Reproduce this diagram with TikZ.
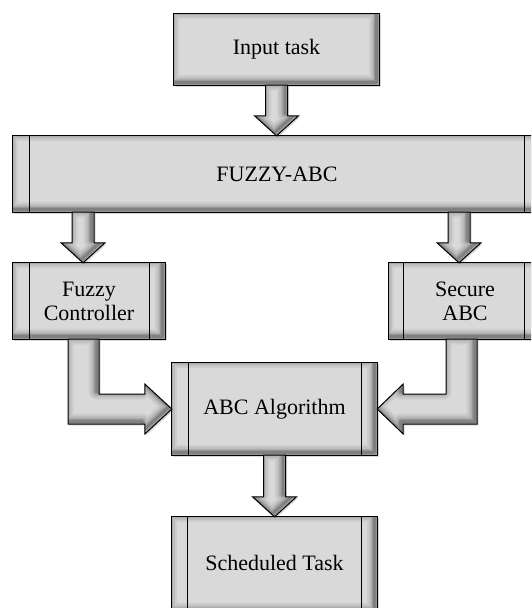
\documentclass[tikz,border=0pt]{standalone}
\usepackage{fontspec}
\setmainfont{Liberation Serif}
\usetikzlibrary{calc}
\definecolor{boxfill}{RGB}{217,217,217}
\pgfdeclarelayer{background}
\pgfsetlayers{background,main}
\newcommand\shadedshape[1]{%
  \begin{scope}[transform canvas={shift={(1.5pt,-1.5pt)}}]
    \fill[black,opacity=0.15] #1;
  \end{scope}
  \fill[boxfill] #1;
  \begin{scope}
    \clip #1;
    \begin{scope}[transform canvas={shift={(-2.5pt,2.5pt)}}]
      \foreach \w/\o in {16/0.05,12/0.07,8/0.09,5/0.12,2.5/0.15}{
        \draw[black,opacity=\o,line width=\w pt,line join=round] #1;}
    \end{scope}
  \end{scope}
  \draw[black,line width=1pt,line join=miter] #1;
}
\tikzset{
  txt/.style={inner sep=0pt,align=center,font=\fontsize{22}{24}\selectfont},
}
\begin{document}
\begin{tikzpicture}[x=1pt,y=1pt]
\useasboundingbox (0,0) rectangle (531,-608);
% boxes (text on main layer)
\node[txt,minimum width=205pt,minimum height=71pt] (in) at (276.5,-49.5) {Input task};
\node[txt,minimum width=528pt,minimum height=76pt] (fz) at (277,-174) {FUZZY-ABC};
\node[txt,minimum width=152pt,minimum height=76pt] (fc) at (89,-301) {Fuzzy\\Controller};
\node[txt,minimum width=152pt,minimum height=76pt] (sa) at (465,-301) {Secure\\ABC};
\node[txt,minimum width=205pt,minimum height=92pt] (abc) at (274.5,-409) {ABC Algorithm};
\node[txt,minimum width=205pt,minimum height=92pt] (st) at (274.5,-563) {Scheduled Task};
% arrow anchor coordinates
\coordinate (t1) at (in.south |- fz.north);
\coordinate (t2) at ($(fc.north)+(-6,0)$);
\coordinate (s2) at (t2 |- fz.south);
\coordinate (t3) at ($(sa.north)+(-6,0)$);
\coordinate (s3) at (t3 |- fz.south);
\coordinate (s4) at ($(fc.south)+(-5.5,0)$);
\coordinate (a4L) at ($(s4)+(-15.5,0)$);
\coordinate (a4R) at ($(s4)+(15.5,0)$);
\coordinate (h4lo) at ($(abc.west)+(-27,-15)$);
\coordinate (h4up) at ($(abc.west)+(-27,15)$);
\coordinate (s5) at ($(sa.south)+(-3.5,0)$);
\coordinate (a5L) at ($(s5)+(-15.5,0)$);
\coordinate (a5R) at ($(s5)+(15.5,0)$);
\coordinate (h5lo) at ($(abc.east)+(26,-15)$);
\coordinate (h5up) at ($(abc.east)+(26,15)$);
\coordinate (t6) at (abc.south |- st.north);
\begin{pgfonlayer}{background}
\clip (0,0) rectangle (531,-608);
% boxes
\shadedshape{(in.north west) rectangle (in.south east)}
\shadedshape{(fz.north west) rectangle (fz.south east)}
\shadedshape{(fc.north west) rectangle (fc.south east)}
\shadedshape{(sa.north west) rectangle (sa.south east)}
\shadedshape{(abc.north west) rectangle (abc.south east)}
\shadedshape{(st.north west) rectangle ($(st.south east)+(0,-4)$)}
% panel lines
\foreach \n/\l/\r in {fz/17/17, fc/17/16, sa/15/17, abc/17/16, st/16/16}{
  \draw[black,line width=1pt] ([xshift=\l pt]\n.north west) -- ([xshift=\l pt]\n.south west);
  \draw[black,line width=1pt] ([xshift=-\r pt]\n.north east) -- ([xshift=-\r pt]\n.south east);
}
% vertical block arrows
\shadedshape{($(in.south)+(-11,0)$) -- ($(t1)+(-11,20)$) -- ($(t1)+(-22,20)$) -- (t1) -- ($(t1)+(22,20)$) -- ($(t1)+(11,20)$) -- ($(in.south)+(11,0)$) -- cycle}
\shadedshape{($(s2)+(-11,0)$) -- ($(t2)+(-11,20)$) -- ($(t2)+(-22,20)$) -- (t2) -- ($(t2)+(22,20)$) -- ($(t2)+(11,20)$) -- ($(s2)+(11,0)$) -- cycle}
\shadedshape{($(s3)+(-11,0)$) -- ($(t3)+(-11,20)$) -- ($(t3)+(-22,20)$) -- (t3) -- ($(t3)+(22,20)$) -- ($(t3)+(11,20)$) -- ($(s3)+(11,0)$) -- cycle}
\shadedshape{($(abc.south)+(-11,0)$) -- ($(t6)+(-11,20)$) -- ($(t6)+(-22,20)$) -- (t6) -- ($(t6)+(22,20)$) -- ($(t6)+(11,20)$) -- ($(abc.south)+(11,0)$) -- cycle}
% elbow arrows
\shadedshape{(a4L) -- (a4L |- h4lo) -- (h4lo) -- ($(abc.west)+(-27,-25)$) -- (abc.west) -- ($(abc.west)+(-27,25)$) -- (h4up) -- (a4R |- h4up) -- (a4R) -- cycle}
\shadedshape{(a5R) -- (a5R |- h5lo) -- (h5lo) -- ($(abc.east)+(26,-25)$) -- (abc.east) -- ($(abc.east)+(26,25)$) -- (h5up) -- (a5L |- h5up) -- (a5L) -- cycle}
\end{pgfonlayer}
\end{tikzpicture}
\end{document}
